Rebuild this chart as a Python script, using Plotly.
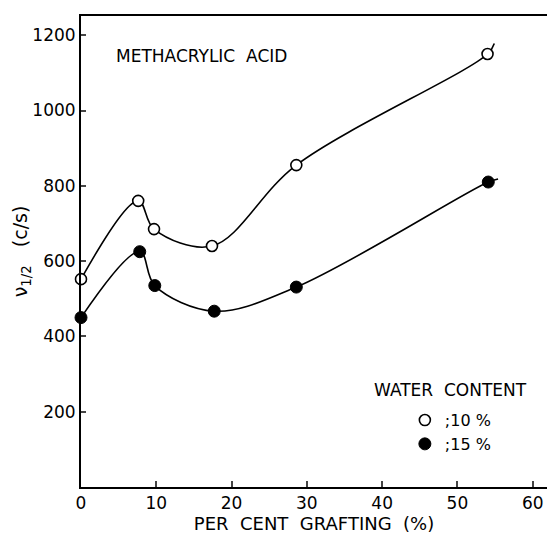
import plotly.graph_objects as go

# Data
pct_open = [0, 7.6, 9.7, 17.4, 28.6, 54.0]
v_open = [552, 760, 685, 640, 855, 1150]
pct_filled = [0, 7.8, 9.8, 17.7, 28.6, 54.1]
v_filled = [450, 625, 535, 467, 531, 810]
# where the hand-drawn curves stop past the last point
open_curve_end = (54.9, 1178)
filled_curve_end = (55.4, 818)

x_ticks = [0, 10, 20, 30, 40, 50, 60]
y_ticks = [200, 400, 600, 800, 1000, 1200]

FONT = "DejaVu Sans"
fig = go.Figure()

fig.add_trace(go.Scatter(
    x=pct_open + [open_curve_end[0]], y=v_open + [open_curve_end[1]],
    mode="lines", line=dict(color="black", width=1.6, shape="spline", smoothing=1.0),
    showlegend=False, hoverinfo="skip"))
fig.add_trace(go.Scatter(
    x=pct_filled + [filled_curve_end[0]], y=v_filled + [filled_curve_end[1]],
    mode="lines", line=dict(color="black", width=1.6, shape="spline", smoothing=1.0),
    showlegend=False, hoverinfo="skip"))

fig.add_trace(go.Scatter(
    x=pct_open, y=v_open, mode="markers", name=";10 %",
    marker=dict(symbol="circle", size=11, color="white", line=dict(color="black", width=1.6)),
    cliponaxis=False))
fig.add_trace(go.Scatter(
    x=pct_filled, y=v_filled, mode="markers", name=";15 %",
    marker=dict(symbol="circle", size=12, color="black", line=dict(color="black", width=1)),
    cliponaxis=False))

fig.update_layout(
    width=547, height=535,
    margin=dict(l=81, r=0, t=16, b=48),
    paper_bgcolor="white", plot_bgcolor="white",
    font=dict(family=FONT, size=16, color="black"),
    showlegend=True,
    legend=dict(x=0.695, y=0.178, xanchor="left", yanchor="top",
                font=dict(size=16), itemwidth=30, tracegroupgap=0,
                bgcolor="rgba(0,0,0,0)"),
    xaxis=dict(range=[0, 61.9], tickvals=x_ticks, ticks="inside", ticklen=6,
               tickwidth=1.5, showline=True, linewidth=2, linecolor="black",
               mirror=True, showgrid=False, zeroline=False,
               tickfont=dict(size=17),
               title=dict(text="PER  CENT  GRAFTING  (%)", standoff=5, font=dict(size=18))),
    yaxis=dict(range=[0, 1251], tickvals=y_ticks, ticks="inside", ticklen=5,
               tickwidth=1.5, showline=True, linewidth=2, linecolor="black",
               showgrid=False, zeroline=False,
               tickfont=dict(size=17),
               title=dict(text="ν<sub>1/2</sub>   (c/s)", standoff=0, font=dict(size=19))),
    annotations=[
        dict(text="METHACRYLIC  ACID", x=0.07, y=0.915, xref="paper", yref="paper",
             xanchor="left", yanchor="middle", showarrow=False, font=dict(size=17)),
        dict(text="WATER  CONTENT", x=0.625, y=0.205, xref="paper", yref="paper",
             xanchor="left", yanchor="middle", showarrow=False, font=dict(size=17)),
    ],
)

fig.write_html("out.html")
